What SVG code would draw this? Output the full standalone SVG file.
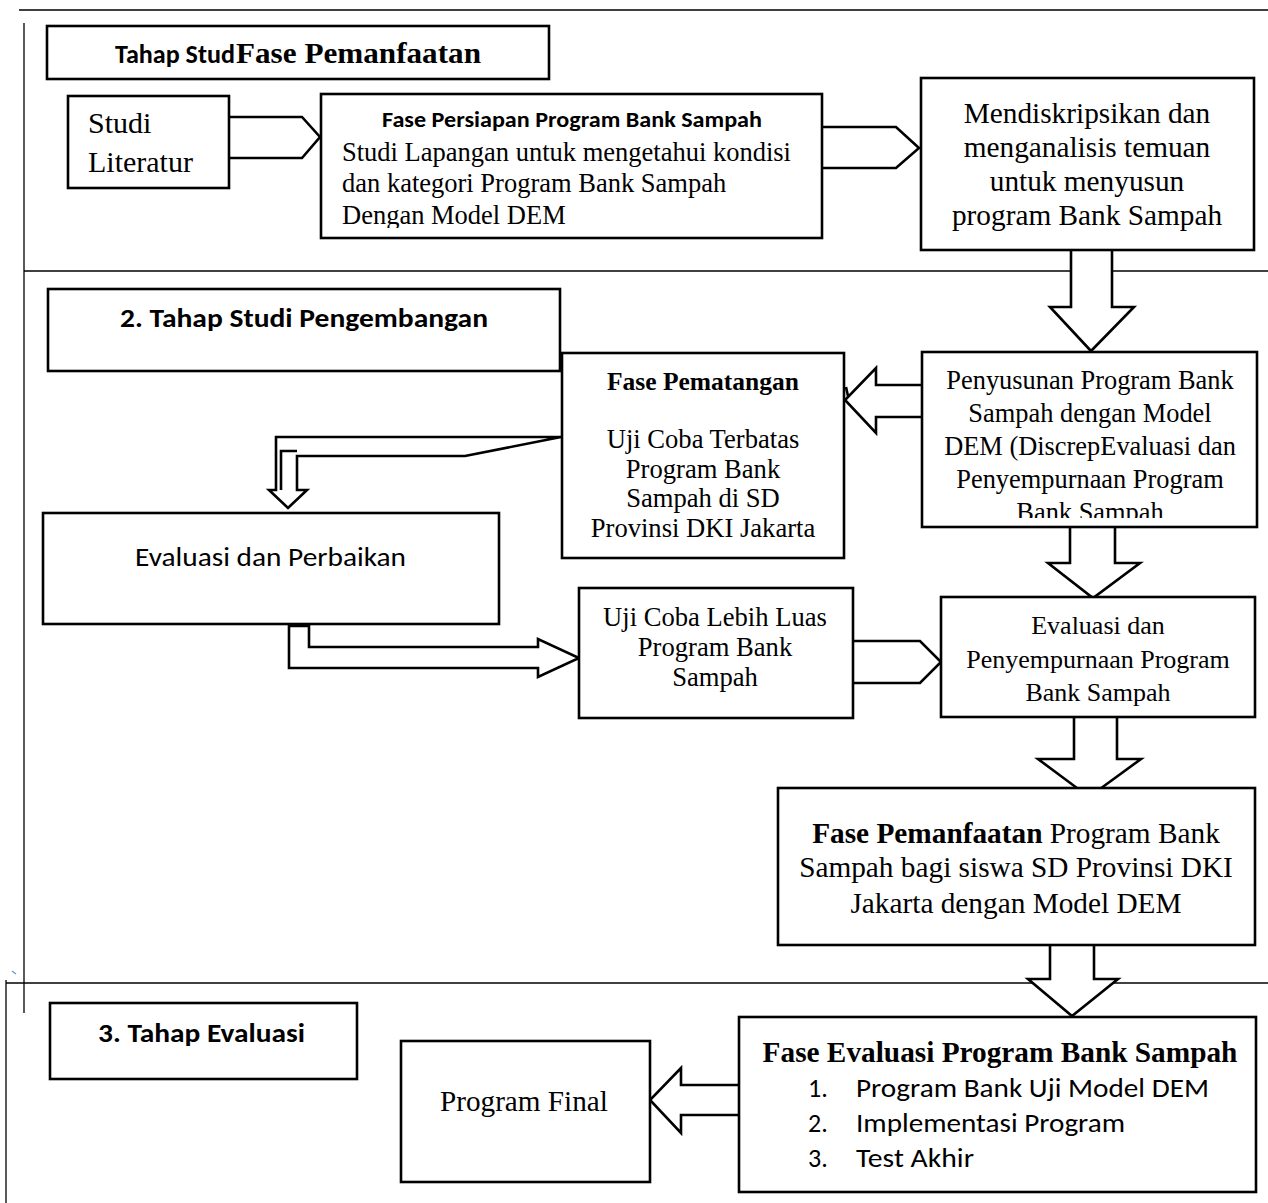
<svg xmlns="http://www.w3.org/2000/svg" width="1268" height="1203" viewBox="0 0 1268 1203">
<style>
.frame{stroke:#000;stroke-width:1.3;fill:none}
.box{fill:#fff;stroke:#000;stroke-width:2.6}
.arr{fill:#fff;stroke:#000;stroke-width:2.6;stroke-linejoin:miter}
.ln{fill:none;stroke:#000;stroke-width:2.6}
.t{font-family:"Liberation Serif","Times New Roman",serif;fill:#000}
.s{font-family:Carlito,Lato,"Liberation Sans",sans-serif;fill:#000}
.b{font-weight:bold}
.c{text-anchor:middle}
</style>
<defs>
<clipPath id="clipB3"><rect x="321" y="94" width="501" height="134"/></clipPath>
<clipPath id="clipB7"><rect x="922" y="352" width="335" height="166"/></clipPath>
</defs>
<rect width="1268" height="1203" fill="#fff"/>
<g id="frame">
<line class="frame" x1="19" y1="10" x2="1268" y2="10"/>
<line class="frame" x1="24" y1="23" x2="24" y2="1013"/>
<line class="frame" x1="24" y1="271" x2="1268" y2="271"/>
<line class="frame" x1="6" y1="983" x2="1268" y2="983"/>
<line class="frame" x1="6" y1="980" x2="6" y2="1203"/>
<line x1="12" y1="971" x2="16" y2="974" stroke="#5b9bd5" stroke-width="1.2"/>
</g>
<g id="connectors">
<path class="arr" d="M229,117 H302 L320,137 L302,158 H229"/>
<path class="arr" d="M822,127 H896 L919,148 L896,168 H822"/>
<path class="arr" d="M1071,250 V307 H1050 L1091,351 L1134,307 H1112 V250"/>
<path class="arr" d="M922,385 H876 V368 L845,400 L876,433 V417 H922"/>
<path class="ln" d="M846,387 L848,396" stroke-width="1.5"/>
<path class="arr" d="M561,437 H276 V490 H269 L288,508 L307,490 H297 V456 H465 Z"/>
<path class="ln" d="M281,490 V451 H297"/>
<path class="arr" d="M289,626 H309 V647 H538 V639 L579,658 L538,677 V668 H289 Z"/>
<path class="arr" d="M853,641 H920 L941,662 L920,683 H853"/>
<path class="arr" d="M1070,527 V563 H1048 L1093,598 L1140,563 H1115 V527"/>
<path class="arr" d="M1074,717 V759 H1038 L1089,797 L1141,759 H1117 V717"/>
<path class="arr" d="M1050,945 V979 H1028 L1072,1016 L1118,979 H1094 V945"/>
<path class="arr" d="M739,1085 H681 V1068 L650,1100 L681,1133 V1115 H739"/>
</g>
<g id="node-tahap1">
<rect class="box" x="47" y="26" width="502" height="53"/>
<text class="s b" x="115" y="63" font-size="27" textLength="120" lengthAdjust="spacingAndGlyphs">Tahap Stud</text>
<text class="t b" x="236" y="63" font-size="29.5" textLength="245" lengthAdjust="spacingAndGlyphs">Fase Pemanfaatan</text>
</g>
<g id="node-studi-literatur">
<rect class="box" x="68" y="96" width="161" height="92"/>
<text class="t" x="88" y="133" font-size="30">Studi</text>
<text class="t" x="88" y="172" font-size="30">Literatur</text>
</g>
<g id="node-fase-persiapan">
<rect class="box" x="321" y="94" width="501" height="144"/>
<text class="s b" x="382" y="127" font-size="22" textLength="380" lengthAdjust="spacingAndGlyphs">Fase Persiapan Program Bank Sampah</text>
<g clip-path="url(#clipB3)">
<text class="t" x="342" y="161" font-size="26.5">Studi Lapangan untuk mengetahui kondisi</text>
<text class="t" x="342" y="192" font-size="26.5">dan kategori Program Bank Sampah</text>
<text class="t" x="342" y="224" font-size="26.5">Dengan Model DEM</text>
</g>
</g>
<g id="node-mendiskripsikan">
<rect class="box" x="921" y="78" width="333" height="172"/>
<text class="t c" x="1087" y="123" font-size="29.3">Mendiskripsikan dan</text>
<text class="t c" x="1087" y="157" font-size="29.3">menganalisis temuan</text>
<text class="t c" x="1087" y="191" font-size="29.3">untuk menyusun</text>
<text class="t c" x="1087" y="225" font-size="29.3">program Bank Sampah</text>
</g>
<g id="node-tahap2">
<rect class="box" x="48" y="289" width="512" height="82"/>
<text class="s b" x="120" y="327" font-size="26" textLength="368" lengthAdjust="spacingAndGlyphs">2. Tahap Studi Pengembangan</text>
</g>
<g id="node-fase-pematangan">
<rect class="box" x="562" y="353" width="282" height="205"/>
<text class="t b c" x="703" y="390" font-size="25.5">Fase Pematangan</text>
<text class="t c" x="703" y="448" font-size="26.6">Uji Coba Terbatas</text>
<text class="t c" x="703" y="478" font-size="26.6">Program Bank</text>
<text class="t c" x="703" y="507" font-size="26.6">Sampah di SD</text>
<text class="t c" x="703" y="537" font-size="26.6">Provinsi DKI Jakarta</text>
</g>
<g id="node-penyusunan">
<rect class="box" x="922" y="352" width="335" height="175"/>
<g clip-path="url(#clipB7)">
<text class="t c" x="1090" y="389" font-size="26.4">Penyusunan Program Bank</text>
<text class="t c" x="1090" y="422" font-size="26.4">Sampah dengan Model</text>
<text class="t c" x="1090" y="455" font-size="26.4">DEM (DiscrepEvaluasi dan</text>
<text class="t c" x="1090" y="488" font-size="26.4">Penyempurnaan Program</text>
<text class="t c" x="1090" y="521" font-size="26.4">Bank Sampah</text>
</g>
</g>
<g id="node-evaluasi-perbaikan">
<rect class="box" x="43" y="513" width="456" height="111"/>
<text class="s" x="135" y="566" font-size="26" textLength="271" lengthAdjust="spacingAndGlyphs">Evaluasi dan Perbaikan</text>
</g>
<g id="node-uji-luas">
<rect class="box" x="579" y="588" width="274" height="130"/>
<text class="t c" x="715" y="626" font-size="26.6">Uji Coba Lebih Luas</text>
<text class="t c" x="715" y="656" font-size="26.6">Program Bank</text>
<text class="t c" x="715" y="686" font-size="26.6">Sampah</text>
</g>
<g id="node-evaluasi-penyempurnaan">
<rect class="box" x="941" y="597" width="314" height="120"/>
<text class="t c" x="1098" y="634" font-size="26">Evaluasi dan</text>
<text class="t c" x="1098" y="668" font-size="26">Penyempurnaan Program</text>
<text class="t c" x="1098" y="701" font-size="26">Bank Sampah</text>
</g>
<g id="node-fase-pemanfaatan">
<rect class="box" x="778" y="788" width="477" height="157"/>
<text class="t c" x="1016" y="843" font-size="29.3"><tspan font-weight="bold">Fase Pemanfaatan</tspan> Program Bank</text>
<text class="t c" x="1016" y="877" font-size="29.3">Sampah bagi siswa SD Provinsi DKI</text>
<text class="t c" x="1016" y="913" font-size="29.3">Jakarta dengan Model DEM</text>
</g>
<g id="node-tahap3">
<rect class="box" x="50" y="1003" width="307" height="76"/>
<text class="s b" x="98" y="1042" font-size="26" textLength="207" lengthAdjust="spacingAndGlyphs">3. Tahap Evaluasi</text>
</g>
<g id="node-program-final">
<rect class="box" x="401" y="1041" width="249" height="141"/>
<text class="t" x="440" y="1111" font-size="29.2">Program Final</text>
</g>
<g id="node-fase-evaluasi">
<rect class="box" x="739" y="1017" width="517" height="175"/>
<text class="t b c" x="1000" y="1062" font-size="29.3">Fase Evaluasi Program Bank Sampah</text>
<text class="s" x="808" y="1097" font-size="26">1.</text>
<text class="s" x="856" y="1097" font-size="26" textLength="353" lengthAdjust="spacingAndGlyphs">Program Bank Uji Model DEM</text>
<text class="s" x="808" y="1132" font-size="26">2.</text>
<text class="s" x="856" y="1132" font-size="26" textLength="269" lengthAdjust="spacingAndGlyphs">Implementasi Program</text>
<text class="s" x="808" y="1167" font-size="26">3.</text>
<text class="s" x="856" y="1167" font-size="26" textLength="118" lengthAdjust="spacingAndGlyphs">Test Akhir</text>
</g>
</svg>
